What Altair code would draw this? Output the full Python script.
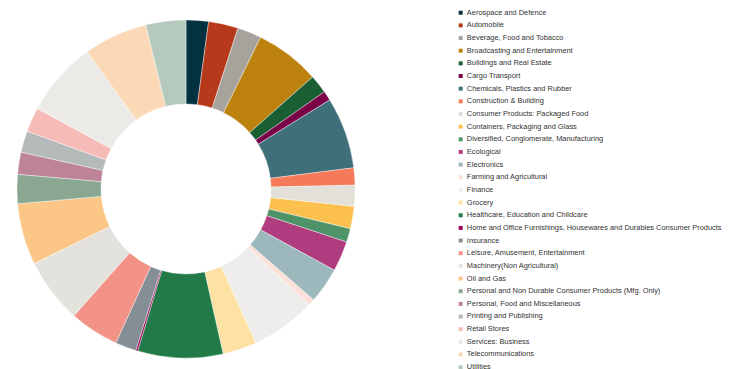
import altair as alt
import pandas as pd

categories = [
    "Aerospace and Defence", "Automobile", "Beverage, Food and Tobacco",
    "Broadcasting and Entertainment", "Buildings and Real Estate", "Cargo Transport",
    "Chemicals, Plastics and Rubber", "Construction & Building",
    "Consumer Products: Packaged Food", "Containers, Packaging and Glass",
    "Diversified, Conglomerate, Manufacturing", "Ecological", "Electronics",
    "Farming and Agricultural", "Finance", "Grocery",
    "Healthcare, Education and Childcare",
    "Home and Office Furnishings, Housewares and Durables Consumer Products",
    "Insurance", "Leisure, Amusement, Entertainment", "Machinery(Non Agricultural)",
    "Oil and Gas", "Personal and Non Durable Consumer Products (Mfg. Only)",
    "Personal, Food and Miscellaneous", "Printing and Publishing", "Retail Stores",
    "Services: Business", "Telecommunications", "Utilities",
]
values = [7.7, 10.2, 8.3, 22.3, 6.4, 3.3, 24.6, 5.9, 7.2, 7.7, 4.7, 10.4, 12.3,
          2.2, 22.4, 11.7, 29.3, 0.7, 7.2, 17.0, 22.4, 21.1, 10.0, 7.6, 7.4, 8.4,
          25.8, 22.0, 13.8]
colors = ["#02313f", "#b5391a", "#a5a39b", "#bd820e", "#1a5e34", "#7a0048",
          "#3f6f78", "#f47a5a", "#e3e0da", "#fbc04e", "#4f9469", "#b03c80",
          "#9cb8bc", "#fbe0d8", "#eeedeb", "#fde2a4", "#217a47", "#a0005a",
          "#858e94", "#f39287", "#e4e2dd", "#fbc686", "#8aa891", "#bd8399",
          "#b4b9ba", "#f6bbb6", "#ebeae7", "#fbd9b6", "#b6c9bd"]

df = pd.DataFrame({"category": categories, "value": values,
                   "idx": list(range(len(categories)))})

chart = alt.Chart(df).mark_arc(stroke="white", strokeWidth=0.4).encode(
    theta=alt.Theta("value:Q", stack=True),
    order=alt.Order("idx:Q"),
    x=alt.value(180),
    y=alt.value(181),
    radius=alt.value(171),
    radius2=alt.value(86),
    color=alt.Color(
        "category:N",
        scale=alt.Scale(domain=categories, range=colors),
        sort=categories,
        legend=alt.Legend(
            title=None, orient="none", legendX=454, legendY=-1,
            symbolType="square", symbolSize=16, symbolStrokeWidth=0,
            labelFont="Liberation Sans", labelFontSize=7.5, labelColor="#333333",
            labelOffset=2.5, rowPadding=3.8, padding=0, labelLimit=400,
            symbolLimit=0,
        ),
    ),
).properties(width=723, height=361, autosize=alt.AutoSizeParams(type="none"),
             padding=0).configure_view(stroke=None)

chart.save("out.html", embed_options={"renderer": "svg", "actions": False})
